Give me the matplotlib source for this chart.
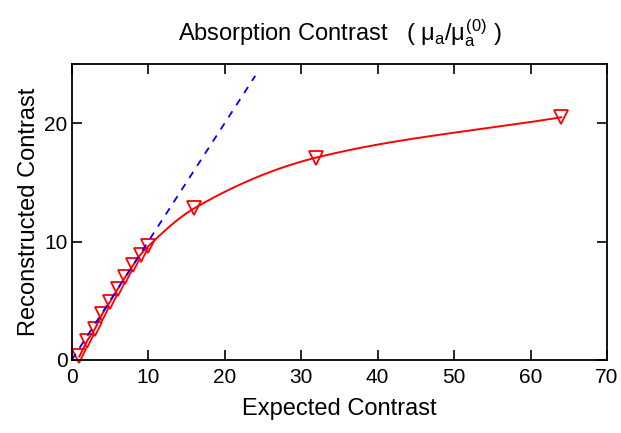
import matplotlib
matplotlib.use('Agg')
import matplotlib.pyplot as plt
import numpy as np

plt.rcParams['font.family'] = ['Liberation Sans', 'DejaVu Sans']
plt.rcParams['mathtext.fontset'] = 'custom'
plt.rcParams['mathtext.rm'] = 'Liberation Sans'
plt.rcParams['mathtext.it'] = 'Liberation Sans'

# data
expected = [1, 2, 3, 4, 5, 6, 7, 8, 9, 10, 16, 32, 64]
reconstructed = [0.3, 1.6, 2.6, 3.9, 4.9, 6.0, 7.0, 8.0, 8.9, 9.6, 12.8, 17.1, 20.5]
ideal_x = [0, 24]


def pchip(x, y, xs):
    # monotone cubic curve through the points (for the smooth red line)
    x = np.asarray(x, float)
    y = np.asarray(y, float)
    h = np.diff(x)
    d = np.diff(y) / h
    m = np.zeros_like(y)
    for k in range(1, len(x) - 1):
        if d[k - 1] * d[k] > 0:
            w1 = 2 * h[k] + h[k - 1]
            w2 = h[k] + 2 * h[k - 1]
            m[k] = (w1 + w2) / (w1 / d[k - 1] + w2 / d[k])
    m[0] = d[0]
    m[-1] = d[-1]
    idx = np.clip(np.searchsorted(x, xs) - 1, 0, len(x) - 2)
    t = (xs - x[idx]) / h[idx]
    h00 = 2 * t**3 - 3 * t**2 + 1
    h10 = t**3 - 2 * t**2 + t
    h01 = -2 * t**3 + 3 * t**2
    h11 = t**3 - t**2
    return h00 * y[idx] + h10 * h[idx] * m[idx] + h01 * y[idx + 1] + h11 * h[idx] * m[idx + 1]


fig = plt.figure(figsize=(6.21, 4.33), dpi=100)
ax = fig.add_axes([0.1155, 0.1686, 0.862, 0.6836])

xs = np.linspace(expected[0], expected[-1], 600)
ax.plot(xs, pchip(expected, reconstructed, xs), color='red', lw=1.4)
ax.plot(expected, reconstructed, linestyle='none', marker='v', markersize=10,
        markerfacecolor='none', markeredgecolor='red', markeredgewidth=1.3,
        clip_on=False)
ax.plot(ideal_x, ideal_x, color='blue', linestyle='--', lw=1.3, dashes=(4, 4))

ax.set_xlim(0, 70)
ax.set_ylim(0, 25)
ax.set_xticks(range(0, 71, 10))
ax.set_yticks([0, 10, 20])
ax.tick_params(direction='in', top=True, right=True, length=7, width=1.2,
               labelsize=15, pad=3)
ax.tick_params(axis='x', pad=6)
for s in ax.spines.values():
    s.set_linewidth(1.3)

ax.set_xlabel('Expected Contrast', fontsize=17, labelpad=8)
ax.set_ylabel('Reconstructed Contrast', fontsize=17, labelpad=3)
ax.set_title(r'Absorption Contrast   ( $\mu_a/\mu_a^{(0)}$ )', fontsize=17, pad=17)

fig.savefig('out.png', dpi=100)
